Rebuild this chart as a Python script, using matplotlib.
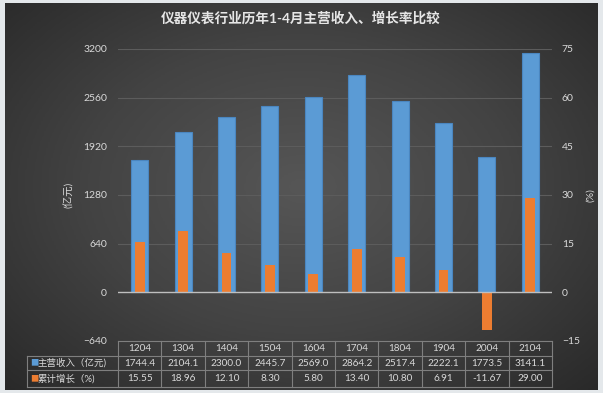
import numpy as np
import matplotlib
matplotlib.use("Agg")
import matplotlib.pyplot as plt
from matplotlib.lines import Line2D

plt.rcParams['font.family'] = ['Lato', 'Noto Sans CJK SC', 'DejaVu Sans']

# data
periods = ['1204', '1304', '1404', '1504', '1604', '1704', '1804', '1904', '2004', '2104']
revenue = [1744.4, 2104.1, 2300.0, 2445.7, 2569.0, 2864.2, 2517.4, 2222.1, 1773.5, 3141.1]
growth = [15.55, 18.96, 12.10, 8.30, 5.80, 13.40, 10.80, 6.91, -11.67, 29.00]
rev_labels = ['1744.4', '2104.1', '2300.0', '2445.7', '2569.0', '2864.2', '2517.4', '2222.1', '1773.5', '3141.1']
growth_labels = ['15.55', '18.96', '12.10', '8.30', '5.80', '13.40', '10.80', '6.91', '-11.67', '29.00']
left_ticks = [-640, 0, 640, 1280, 1920, 2560, 3200]
right_ticks = [-15, 0, 15, 30, 45, 60, 75]

title = '仪器仪表行业历年1-4月主营收入、增长率比较'
series1 = '主营收入（亿元)'
series2 = '累计增长（%)'

BLUE = '#5b9bd5'
ORANGE = '#ed7d31'
TXT = '#d9d9d9'

W, H = 603, 393
fig = plt.figure(figsize=(W / 100, H / 100), dpi=100)
fig.patch.set_facecolor('#e4e8eb')

# dark radial gradient panel
bg = fig.add_axes([5 / W, 3 / H, 593 / W, 387 / H])
yy, xx = np.mgrid[-1:1:200j, -1:1:300j]
r = np.sqrt((xx * 0.9) ** 2 + ((yy + 0.05) * 0.85) ** 2)
bg.imshow(np.clip(r, 0, 1.3), cmap=matplotlib.colors.LinearSegmentedColormap.from_list(
    'g', ['#565656', '#434343', '#282828']), vmin=0, vmax=1.3, aspect='auto',
    extent=[0, 1, 0, 1])
bg.set_axis_off()

AX_L, AX_R, AX_T, AX_B = 118, 552, 49, 341
aw, ah = AX_R - AX_L, AX_B - AX_T
ax = fig.add_axes([AX_L / W, 1 - AX_B / H, aw / W, ah / H])
ax.patch.set_alpha(0)
x = np.arange(len(periods))
col_w = aw / len(periods)

ax.set_ylim(-640, 3200)
ax.set_xlim(-0.5, len(periods) - 0.5)
ax.set_yticks(left_ticks)
ax.set_xticks([])
for t in left_ticks:
    if t != 0:
        ax.axhline(t, color='#5c5c5c', lw=0.8, zorder=0)
ax.bar(x, revenue, width=0.39, color=BLUE, edgecolor='#4a86c0', linewidth=0.8, zorder=2)
ax.tick_params(axis='y', length=0, colors=TXT, labelsize=7.5, pad=8)
for s in ax.spines.values():
    s.set_visible(False)
ax.set_ylabel('(亿元)', color=TXT, fontsize=7.5)
ax.yaxis.set_label_coords((74 - AX_L) / aw, 0.5)

ax2 = ax.twinx()
ax2.set_ylim(-15, 75)
ax2.set_yticks(right_ticks)
ax2.bar(x, growth, width=0.23, color=ORANGE, zorder=3)
ax2.axhline(0, color='#bfbfbf', lw=1, zorder=4)
ax2.tick_params(axis='y', length=0, colors=TXT, labelsize=7.5, pad=7)
for s in ax2.spines.values():
    s.set_visible(False)
ax2.set_ylabel('(%)', color=TXT, fontsize=7.5, rotation=90)
ax2.yaxis.set_label_coords((586 - AX_L) / aw, 0.5)

fig.text(301 / W, 1 - 18 / H, title, ha='center', va='center', color='#e6e6e6',
         fontsize=9.8, fontweight='bold')

# data table below the plot
tr = ax.get_xaxis_transform()
rows = [0.0, -15 / ah, -29 / ah, -46 / ah]
label_left = -0.5 - (AX_L - 27) / col_w
lc = '#7f7f7f'
lines = []
lines.append(Line2D([-0.5, len(periods) - 0.5], [rows[0], rows[0]]))
for yv in rows[1:]:
    lines.append(Line2D([label_left, len(periods) - 0.5], [yv, yv]))
lines.append(Line2D([label_left, label_left], [rows[1], rows[3]]))
for i in range(len(periods) + 1):
    lines.append(Line2D([i - 0.5, i - 0.5], [rows[0], rows[3]]))
for ln in lines:
    ln.set_transform(tr)
    ln.set_color(lc)
    ln.set_linewidth(0.8)
    ln.set_clip_on(False)
    ax.add_line(ln)

for i in range(len(periods)):
    cells = [periods[i], rev_labels[i], growth_labels[i]]
    for j, txt in enumerate(cells):
        ax.text(i, (rows[j] + rows[j + 1]) / 2, txt, transform=tr, ha='center',
                va='center', color=TXT, fontsize=7.2, clip_on=False)

for j, (name, col) in enumerate([(series1, BLUE), (series2, ORANGE)]):
    yc = (rows[j + 1] + rows[j + 2]) / 2
    ax.text(label_left + 3 / col_w, yc, '■', transform=tr, ha='left', va='center',
            color=col, fontsize=6, clip_on=False)
    ax.text(label_left + 11 / col_w, yc, name, transform=tr, ha='left', va='center',
            color=TXT, fontsize=6.8, clip_on=False)

fig.savefig('out.png', dpi=100, facecolor=fig.get_facecolor())
